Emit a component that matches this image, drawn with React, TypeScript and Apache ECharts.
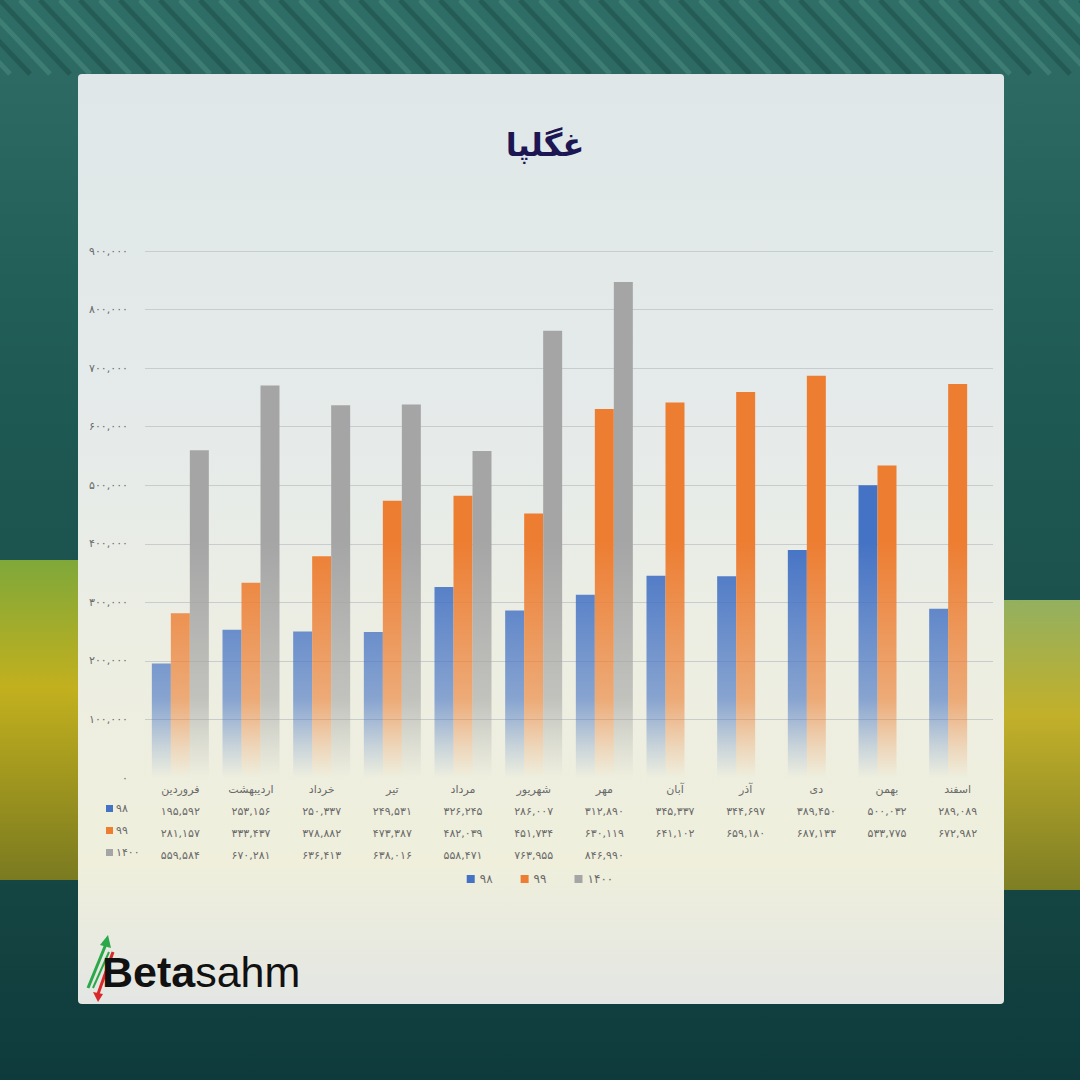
import React, { useEffect, useRef } from "react";
import * as echarts from "echarts";

const months = ["فروردین", "اردیبهشت", "خرداد", "تیر", "مرداد", "شهریور", "مهر", "آبان", "آذر", "دی", "بهمن", "اسفند"];
const seriesNames = ["۹۸", "۹۹", "۱۴۰۰"];
const values98 = [195592, 253156, 250337, 249531, 326245, 286007, 312890, 345337, 344697, 389450, 500032, 289089];
const values99 = [281157, 333437, 378882, 473387, 482039, 451734, 630119, 641102, 659180, 687133, 533775, 672982];
const values1400: (number | null)[] = [559584, 670281, 636413, 638016, 558471, 763955, 846990, null, null, null, null, null];
const yMin = 0;
const yMax = 900000;
const yInterval = 100000;
const title = "غگلپا";

const colors = ["#4472C4", "#ED7D31", "#A5A5A5"];
const FONT = "'DejaVu Sans', 'Noto Sans', sans-serif";

const toFa = (n: number | null | undefined) =>
  n == null ? "" : n.toLocaleString("en-US").replace(/\d/g, (d) => "۰۱۲۳۴۵۶۷۸۹"[+d]);

const GRID_TOP = 251;
const GRID_BOTTOM_Y = 778;

function barGradient(c: string) {
  return new echarts.graphic.LinearGradient(
    0, GRID_TOP, 0, GRID_BOTTOM_Y,
    [
      { offset: 0, color: c },
      { offset: 0.55, color: c },
      { offset: 0.85, color: echarts.color.modifyAlpha(c, 0.6) },
      { offset: 0.94, color: echarts.color.modifyAlpha(c, 0.22) },
      { offset: 1, color: echarts.color.modifyAlpha(c, 0) },
    ],
    true
  );
}

export default function App() {
  const ref = useRef<HTMLDivElement>(null);
  useEffect(() => {
    document.body.style.margin = "0";
    const chart = echarts.init(ref.current!, null, { renderer: "svg" });
    const rowData = [values98, values99, values1400];
    const labelStyle = { color: "#6a6a6a", fontSize: 11, fontFamily: FONT };

    const xAxes: any[] = [
      {
        type: "category",
        data: months,
        position: "bottom",
        axisLine: { show: false },
        axisTick: { show: false },
        axisLabel: { ...labelStyle, margin: 6, interval: 0 },
      },
    ];
    rowData.forEach((arr, r) => {
      xAxes.push({
        type: "category",
        data: months,
        position: "bottom",
        offset: 22 + r * 22,
        axisLine: { show: false },
        axisTick: { show: false },
        axisLabel: {
          ...labelStyle,
          margin: 6,
          interval: 0,
          formatter: (_v: string, idx: number) => toFa(arr[idx]),
        },
      });
    });

    const rowHeaders: any[] = [];
    seriesNames.forEach((name, r) => {
      const y = 808 + r * 22;
      rowHeaders.push({
        type: "rect",
        shape: { x: 106, y: y - 3, width: 7, height: 7 },
        style: { fill: colors[r] },
        z: 10,
      });
      rowHeaders.push({
        type: "text",
        x: 116,
        y: y,
        style: { text: name, fill: "#6a6a6a", fontSize: 11, fontFamily: FONT, verticalAlign: "middle", align: "left" },
        z: 10,
      });
    });

    // roof stripes at the top of the background
    const stripes: any[] = [];
    for (let i = 0; i < 60; i++) {
      const x = -80 + i * 20;
      stripes.push({
        type: "line",
        shape: { x1: x, y1: 0, x2: x + 70, y2: 74 },
        style: { stroke: i % 2 ? "rgba(140,210,190,0.18)" : "rgba(10,40,40,0.25)", lineWidth: 5 },
        z: -9,
        silent: true,
      });
    }

    const option: any = {
      animation: false,
      textStyle: { fontFamily: FONT },
      graphic: [
        {
          type: "rect",
          shape: { x: 0, y: 0, width: 1080, height: 1080 },
          style: {
            fill: new echarts.graphic.LinearGradient(0, 0, 0, 1, [
              { offset: 0, color: "#2f6e66" },
              { offset: 0.35, color: "#1f5a55" },
              { offset: 0.75, color: "#184a45" },
              { offset: 1, color: "#0e3a3c" },
            ]),
          },
          z: -10,
          silent: true,
        },
        ...stripes,
        {
          type: "rect",
          shape: { x: 0, y: 560, width: 78, height: 320 },
          style: {
            fill: new echarts.graphic.LinearGradient(0, 0, 0, 1, [
              { offset: 0, color: "#7fa83a" },
              { offset: 0.4, color: "#c2b01e" },
              { offset: 1, color: "#7a7a20" },
            ]),
          },
          z: -9,
          silent: true,
        },
        {
          type: "rect",
          shape: { x: 1004, y: 600, width: 76, height: 290 },
          style: {
            fill: new echarts.graphic.LinearGradient(0, 0, 0, 1, [
              { offset: 0, color: "#93b060" },
              { offset: 0.4, color: "#c2b02a" },
              { offset: 1, color: "#7e7e24" },
            ]),
          },
          z: -9,
          silent: true,
        },
        {
          type: "rect",
          shape: { x: 78, y: 74, width: 926, height: 930, r: 4 },
          style: {
            fill: new echarts.graphic.LinearGradient(0, 0, 0, 1, [
              { offset: 0, color: "#dfe7e8" },
              { offset: 0.4, color: "#e6ebea" },
              { offset: 0.6, color: "#eceee3" },
              { offset: 0.85, color: "#efefdc" },
              { offset: 1, color: "#e3e6e3" },
            ]),
          },
          z: -5,
          silent: true,
        },
        {
          type: "text",
          x: 545,
          y: 145,
          style: {
            text: title,
            fill: "#1c1652",
            fontSize: 32,
            fontWeight: "bold",
            fontFamily: FONT,
            align: "center",
            verticalAlign: "middle",
          },
        },
        ...rowHeaders,
        // logo
        {
          type: "group",
          x: 0,
          y: 0,
          children: [
            { type: "line", shape: { x1: 88, y1: 988, x2: 106, y2: 944 }, style: { stroke: "#2aa84a", lineWidth: 3 } },
            { type: "polygon", shape: { points: [[100, 945], [108, 935], [111, 948]] }, style: { fill: "#2aa84a" } },
            { type: "line", shape: { x1: 93, y1: 988, x2: 109, y2: 952 }, style: { stroke: "#2aa84a", lineWidth: 2 } },
            { type: "line", shape: { x1: 113, y1: 952, x2: 98, y2: 994 }, style: { stroke: "#d9282b", lineWidth: 3 } },
            { type: "polygon", shape: { points: [[93, 992], [98, 1002], [103, 994]] }, style: { fill: "#d9282b" } },
            {
              type: "text",
              x: 102,
              y: 972,
              style: {
                text: "{b|Beta}{n|sahm}",
                verticalAlign: "middle",
                align: "left",
                rich: {
                  b: { fontSize: 43, fontWeight: "bold", fill: "#111", fontFamily: "'Liberation Sans', Arial, sans-serif" },
                  n: { fontSize: 43, fontWeight: "normal", fill: "#111", fontFamily: "'Liberation Sans', Arial, sans-serif" },
                },
              },
            },
          ],
        },
      ],
      grid: { left: 145, right: 87, top: GRID_TOP, bottom: 1080 - GRID_BOTTOM_Y, containLabel: false },
      legend: {
        data: seriesNames,
        bottom: 1080 - 890,
        left: "center",
        itemWidth: 8,
        itemHeight: 8,
        itemGap: 28,
        icon: "rect",
        textStyle: { color: "#6a6a6a", fontSize: 12, fontFamily: FONT },
      },
      xAxis: xAxes,
      yAxis: {
        type: "value",
        min: yMin,
        max: yMax,
        interval: yInterval,
        axisLine: { show: false },
        axisTick: { show: false },
        axisLabel: { ...labelStyle, margin: 17, formatter: (v: number) => toFa(v) },
        splitLine: { showMinLine: false, lineStyle: { color: "#c9cccc", width: 1 } },
      },
      series: [values98, values99, values1400].map((arr, i) => ({
        name: seriesNames[i],
        type: "bar",
        data: arr,
        barWidth: 19,
        barGap: "0%",
        itemStyle: { color: barGradient(colors[i]) },
        emphasis: { disabled: true },
      })),
    };
    chart.setOption(option);
    return () => chart.dispose();
  }, []);
  return <div ref={ref} style={{ position: "absolute", left: 0, top: 0, width: 1080, height: 1080 }} />;
}
